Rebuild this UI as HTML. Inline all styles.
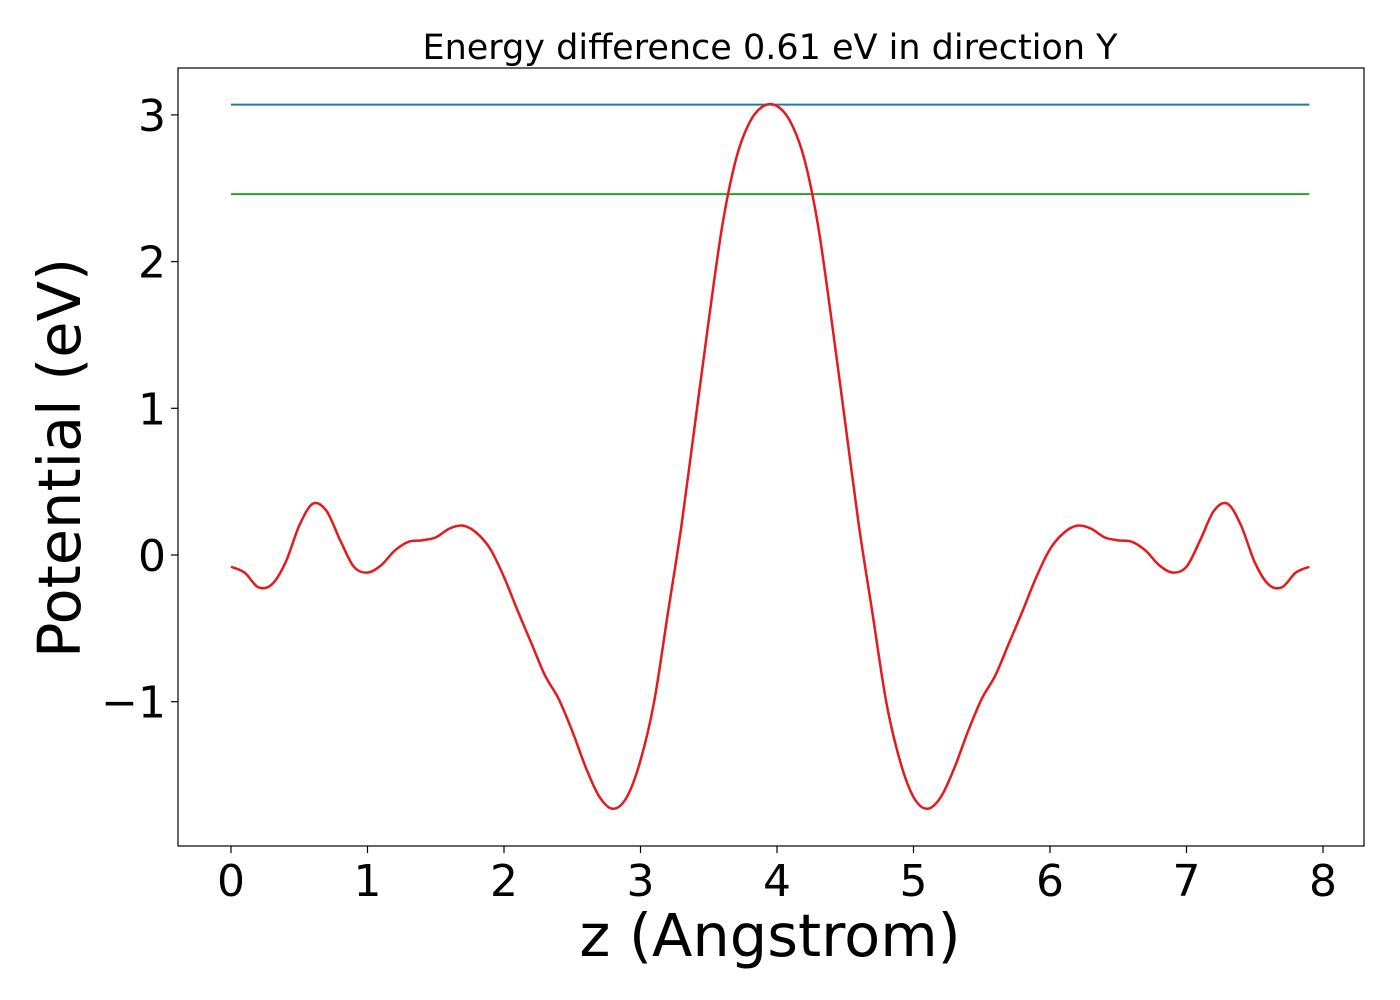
<!DOCTYPE html>
<html><head><meta charset="utf-8"><style>
body{margin:0;background:#fff;}
svg{display:block;font-family:"DejaVu Sans","Liberation Sans",sans-serif;}
</style></head><body>
<svg id="chart" width="1400" height="1000">
<text x="770" y="59" font-size="35" text-anchor="middle">Energy difference 0.61 eV in direction Y</text>
<rect x="178" y="68" width="1186" height="778" fill="none" stroke="#000" stroke-width="1.2"/>
<g id="xticks"></g>
<g id="yticks"></g>
<g id="series"></g>
<text x="770" y="956" font-size="59" text-anchor="middle">z (Angstrom)</text>
<text transform="translate(80,458) rotate(-90)" font-size="59" text-anchor="middle">Potential (eV)</text>
</svg>
<script>
const xTickValues=[0,1,2,3,4,5,6,7,8];
const yTickValues=[-1,0,1,2,3];
const yTickLabels=["\u22121","0","1","2","3"];
const halfPotential=[-0.08,-0.12,-0.22,-0.2,-0.05,0.2,0.35,0.3,0.1,-0.08,-0.12,-0.07,0.03,0.09,0.1,0.12,0.18,0.2,0.15,0.04,-0.15,-0.38,-0.6,-0.82,-0.98,-1.2,-1.45,-1.65,-1.73,-1.65,-1.4,-1.0,-0.4,0.2,0.9,1.6,2.25,2.7,2.95,3.06];
const potential=halfPotential.concat(halfPotential.slice().reverse());
const zValues=potential.map((_,i)=>i*0.1);
const maxEnergy=3.07;
const midEnergy=2.46;
const zRange=[0,7.9];

function xs(v){return 231+v*136.5;}
function ys(v){return 555-v*146.7;}
const NS="http://www.w3.org/2000/svg";
function mk(tag,attrs,parent){const e=document.createElementNS(NS,tag);for(const k in attrs)e.setAttribute(k,attrs[k]);parent.appendChild(e);return e;}
const xg=document.getElementById('xticks'),yg=document.getElementById('yticks'),sg=document.getElementById('series');
xTickValues.forEach(v=>{
 const l=mk('line',{x1:xs(v),x2:xs(v),y1:846,y2:853,stroke:'#000','stroke-width':1.2},xg);
 
 
 const t=mk('text',{x:xs(v),y:896,'font-size':44,'text-anchor':'middle'},xg);
 t.textContent=v;
 
 
});
yTickValues.forEach((v,i)=>{
 const l=mk('line',{x1:171,x2:178,y1:ys(v),y2:ys(v),stroke:'#000','stroke-width':1.2},yg);
 
 
 const t=mk('text',{x:166,y:ys(v)+16,'font-size':44,'text-anchor':'end'},yg);
 t.textContent=yTickLabels[i];
 
 
});
const b=mk('line',{x1:xs(zRange[0]),x2:xs(zRange[1]),y1:ys(maxEnergy),y2:ys(maxEnergy),stroke:'#1f77b4','stroke-width':2},sg);


const g=mk('line',{x1:xs(zRange[0]),x2:xs(zRange[1]),y1:ys(midEnergy),y2:ys(midEnergy),stroke:'#2ca02c','stroke-width':2},sg);


const pts=zValues.map((z,i)=>[xs(z),ys(potential[i])]);
let d='M'+pts[0][0]+','+pts[0][1];
for(let i=0;i<pts.length-1;i++){
 const p0=pts[Math.max(i-1,0)],p1=pts[i],p2=pts[i+1],p3=pts[Math.min(i+2,pts.length-1)];
 const c1=[p1[0]+(p2[0]-p0[0])/6,p1[1]+(p2[1]-p0[1])/6],c2=[p2[0]-(p3[0]-p1[0])/6,p2[1]-(p3[1]-p1[1])/6];
 d+=' C'+c1[0]+','+c1[1]+' '+c2[0]+','+c2[1]+' '+p2[0]+','+p2[1];
}
const c=mk('path',{d:d,fill:'none',stroke:'#e41a1c','stroke-width':2.5},sg);


</script>
</body></html>
